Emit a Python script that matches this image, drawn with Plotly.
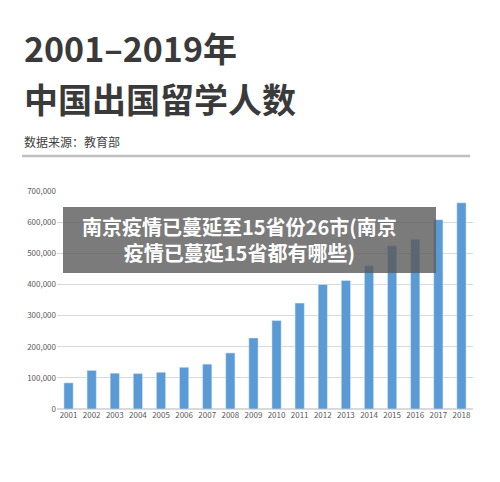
import plotly.graph_objects as go

years = [str(y) for y in range(2001, 2019)]
values = [83973, 124000, 115000, 114000, 118000, 134000, 144000, 180000, 228000,
          284000, 340000, 400000, 413000, 460000, 524000, 544000, 608000, 662000]
tick_vals = [0, 100000, 200000, 300000, 400000, 500000, 600000, 700000]
tick_text = ["0", "100,000", "200,000", "300,000", "400,000", "500,000", "600,000", "700,000"]

fig = go.Figure(go.Bar(x=years, y=values, marker_color="#5b9bd5", width=0.4))
fig.update_layout(
    width=500, height=482, paper_bgcolor="white", plot_bgcolor="white",
    margin=dict(l=49, r=35, t=183, b=81), showlegend=False,
    font=dict(family="Noto Sans CJK SC", color="#595959"),
)
fig.update_xaxes(tickfont=dict(size=8, color="#595959"), showline=False, ticks="")
fig.update_yaxes(range=[0, 700000], tickvals=tick_vals, ticktext=tick_text,
                 tickfont=dict(size=8, color="#595959"), gridcolor="#d9d9d9",
                 zeroline=True, zerolinecolor="#d9d9d9")
fig.add_annotation(text="<b>2001–2019年</b>", xref="paper", yref="paper", x=-0.084, y=1.0,
                   yshift=144, xanchor="left", yanchor="middle", showarrow=False,
                   font=dict(size=34, color="#3a3a3a", family="Noto Sans CJK SC"))
fig.add_annotation(text="<b>中国出国留学人数</b>", xref="paper", yref="paper", x=-0.084, y=1.0,
                   yshift=93, xanchor="left", yanchor="middle", showarrow=False,
                   font=dict(size=34, color="#3a3a3a", family="Noto Sans CJK SC"))
fig.add_annotation(text="数据来源：教育部", xref="paper", yref="paper", x=-0.084, y=1.0,
                   yshift=50, xanchor="left", yanchor="middle", showarrow=False,
                   font=dict(size=12, color="#404040", family="Noto Sans CJK SC"))
fig.add_shape(type="line", xref="paper", yref="paper", x0=-0.084, x1=0.993,
              y0=1 + 35/218, y1=1 + 35/218,
              line=dict(color="#bfbfbf", width=2.5), layer="above")
fig.add_shape(type="rect", xref="paper", yref="y",
              x0=6/416, x1=379/416, y0=437000, y1=649000,
              fillcolor="rgba(90,90,90,0.8)", line_width=0, layer="above")
fig.add_annotation(text="<b>南京疫情已蔓延至15省份26市(南京<br>疫情已蔓延15省都有哪些)</b>",
                   xref="paper", yref="y", x=182/416, y=543000,
                   showarrow=False, font=dict(size=20, color="white", family="Noto Sans CJK SC"),
                   align="center")
fig.write_html("out.html")
